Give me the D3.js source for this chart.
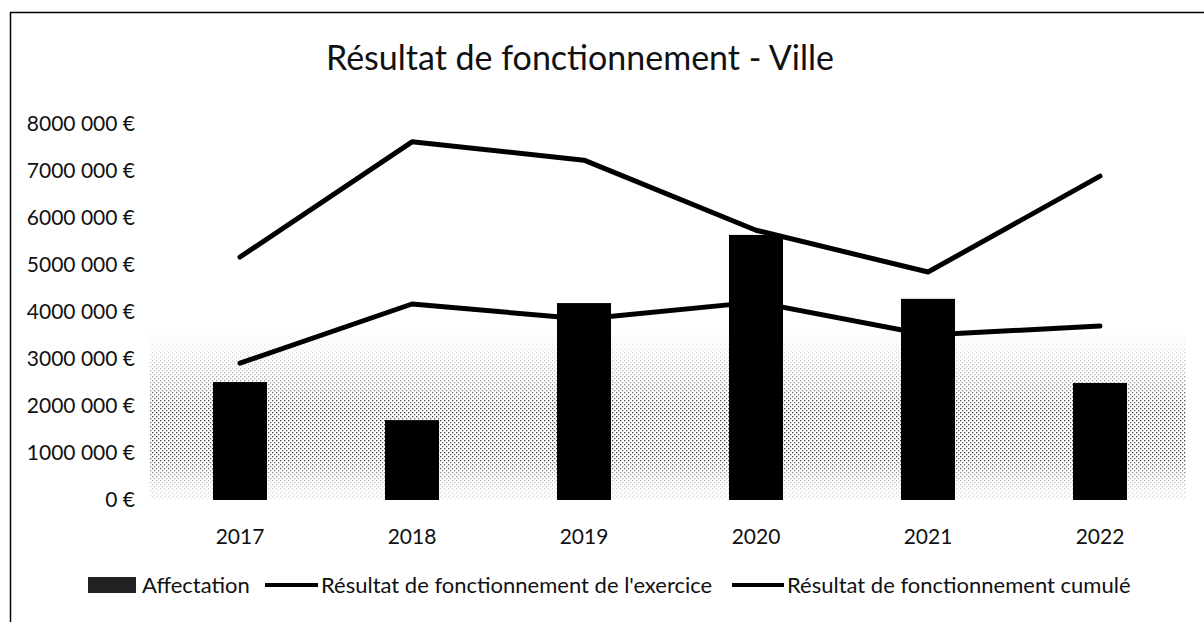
<!DOCTYPE html>
<meta charset="utf-8">
<head>
<style>
  body { margin: 0; background: #fff; }
  text { font-family: Lato, "Open Sans", sans-serif; fill: #111; }
</style>
</head>
<script src="https://d3js.org/d3.v7.min.js"></script>

<div id="chart"></div>

<script>
    // data
    var years = ['2017', '2018', '2019', '2020', '2021', '2022'];
    var affectation = [2510000, 1700000, 4190000, 5640000, 4280000, 2490000];
    var exercice = [2910000, 4170000, 3850000, 4210000, 3510000, 3700000];
    var cumule = [5170000, 7620000, 7230000, 5740000, 4850000, 6890000];
    var yTicks = [0, 1000000, 2000000, 3000000, 4000000, 5000000, 6000000, 7000000, 8000000];
    var yTickLabels = ['0 €', '1000 000 €', '2000 000 €', '3000 000 €', '4000 000 €',
        '5000 000 €', '6000 000 €', '7000 000 €', '8000 000 €'];
    var seriesNames = ['Affectation', 'Résultat de fonctionnement de l\'exercice', 'Résultat de fonctionnement cumulé'];
    var title = 'Résultat de fonctionnement - Ville';

    var width = 1204,
        height = 622,
        plot = { left: 154, right: 1186, top: 124, bottom: 500 };

    var svg = d3.select('#chart').append('svg')
        .attr('width', width)
        .attr('height', height);

    // frame of the scanned page (left and top edges only)
    svg.append('path')
        .attr('d', 'M10.5,622 L10.5,12.5 L1204,12.5')
        .attr('fill', 'none')
        .attr('stroke', '#000')
        .attr('stroke-width', 1.5);

    var x = d3.scaleBand()
        .domain(years)
        .range([plot.left, plot.right])
        .padding(0);

    var y = d3.scaleLinear()
        .domain([0, 8000000])
        .range([plot.bottom, plot.top]);

    var barW = x.step() * 0.314;

    // stipple from the scan: a dotted grey band behind the bars
    var defs = svg.append('defs');
    var pat = defs.append('pattern')
        .attr('id', 'dots')
        .attr('width', 4).attr('height', 4)
        .attr('patternUnits', 'userSpaceOnUse');
    pat.append('rect').attr('x', 0).attr('y', 0).attr('width', 1.3).attr('height', 1.3).attr('fill', '#222');
    pat.append('rect').attr('x', 2).attr('y', 2).attr('width', 1.3).attr('height', 1.3).attr('fill', '#444');
    var grad = defs.append('linearGradient')
        .attr('id', 'fade').attr('x1', 0).attr('y1', 0).attr('x2', 0).attr('y2', 1);
    grad.append('stop').attr('offset', '0%').attr('stop-color', '#fff').attr('stop-opacity', 0);
    grad.append('stop').attr('offset', '25%').attr('stop-color', '#fff').attr('stop-opacity', 0.35);
    grad.append('stop').attr('offset', '45%').attr('stop-color', '#fff').attr('stop-opacity', 0.85);
    grad.append('stop').attr('offset', '75%').attr('stop-color', '#fff').attr('stop-opacity', 0.85);
    grad.append('stop').attr('offset', '90%').attr('stop-color', '#fff').attr('stop-opacity', 0.3);
    grad.append('stop').attr('offset', '100%').attr('stop-color', '#fff').attr('stop-opacity', 0.1);
    var bandTop = y(3600000);
    var mask = defs.append('mask').attr('id', 'fadeMask');
    mask.append('rect')
        .attr('x', plot.left - 4).attr('y', bandTop)
        .attr('width', plot.right - plot.left + 4).attr('height', plot.bottom - bandTop)
        .attr('fill', 'url(#fade)');
    svg.append('rect')
        .attr('x', plot.left - 4).attr('y', bandTop)
        .attr('width', plot.right - plot.left + 4).attr('height', plot.bottom - bandTop)
        .attr('fill', 'url(#dots)')
        .attr('mask', 'url(#fadeMask)');

    // title
    svg.append('text')
        .attr('x', 580)
        .attr('y', 70)
        .attr('text-anchor', 'middle')
        .style('font-size', '34px')
        .text(title);

    // y axis labels
    svg.append('g').selectAll('text')
        .data(yTicks)
        .enter().append('text')
        .attr('x', 135)
        .attr('y', d => y(d))
        .attr('dy', '0.35em')
        .attr('text-anchor', 'end')
        .style('font-size', '21px')
        .text((d, i) => yTickLabels[i]);

    // x axis labels
    svg.append('g').selectAll('text')
        .data(years)
        .enter().append('text')
        .attr('x', d => x(d) + x.bandwidth() / 2)
        .attr('y', 537)
        .attr('dy', '0.35em')
        .attr('text-anchor', 'middle')
        .style('font-size', '21px')
        .text(d => d);

    // bars
    svg.append('g').selectAll('rect')
        .data(affectation)
        .enter().append('rect')
        .attr('x', (d, i) => x(years[i]) + (x.bandwidth() - barW) / 2)
        .attr('y', d => y(d))
        .attr('width', barW)
        .attr('height', d => y(0) - y(d))
        .attr('fill', '#000');

    // lines
    var line = d3.line()
        .x((d, i) => x(years[i]) + x.bandwidth() / 2)
        .y(d => y(d));

    [exercice, cumule].forEach(function(s) {
        svg.append('path')
            .datum(s)
            .attr('d', line)
            .attr('fill', 'none')
            .attr('stroke', '#000')
            .attr('stroke-width', 5)
            .attr('stroke-linejoin', 'round')
            .attr('stroke-linecap', 'round');
    });

    // legend
    var lg = svg.append('g').attr('transform', 'translate(0,585)');
    lg.append('rect')
        .attr('x', 88).attr('y', -8).attr('width', 48).attr('height', 16)
        .attr('fill', '#222');
    lg.append('text').attr('x', 142).attr('y', 0).attr('dy', '0.35em')
        .style('font-size', '22px').text(seriesNames[0]);
    lg.append('line')
        .attr('x1', 265).attr('x2', 318).attr('y1', 0).attr('y2', 0)
        .attr('stroke', '#000').attr('stroke-width', 4);
    lg.append('text').attr('x', 321).attr('y', 0).attr('dy', '0.35em')
        .style('font-size', '22px').text(seriesNames[1]);
    lg.append('line')
        .attr('x1', 732).attr('x2', 784).attr('y1', 0).attr('y2', 0)
        .attr('stroke', '#000').attr('stroke-width', 4);
    lg.append('text').attr('x', 787).attr('y', 0).attr('dy', '0.35em')
        .style('font-size', '22px').text(seriesNames[2]);
</script>
